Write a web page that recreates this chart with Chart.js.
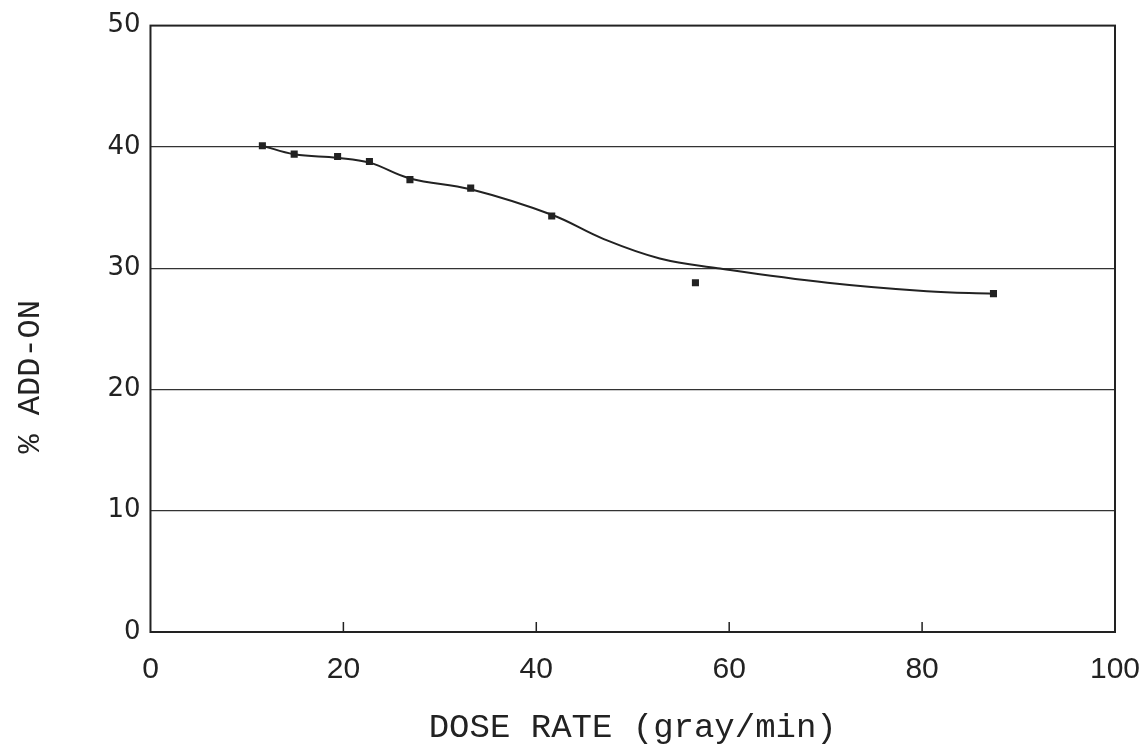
<!DOCTYPE html>
<html>
<head>
<meta charset="utf-8">
<script src="https://cdn.jsdelivr.net/npm/chart.js@4/dist/chart.umd.min.js"></script>
<style>
  html, body { margin: 0; padding: 0; background: #fff; }
  #wrap { width: 1140px; height: 744px; }
</style>
</head>
<body>
<div id="wrap"><canvas id="doseChart" width="1140" height="744"></canvas></div>
<script>
// measured points
const doseRate = [11.6, 14.9, 19.4, 22.7, 26.9, 33.2, 41.6, 56.5, 87.4];
const addOn = [40.1, 39.4, 39.2, 38.8, 37.3, 36.6, 34.3, 28.8, 27.9];

// fitted curve drawn through the data
const curveX = [11.6, 14.9, 19.4, 22.7, 26.9, 33.2, 41.6, 47.0, 52.8, 58.8, 70.2, 80.5, 87.4];
const curveY = [40.1, 39.4, 39.1, 38.7, 37.4, 36.5, 34.4, 32.4, 30.8, 30.0, 28.8, 28.1, 27.9];

const xTicks = [0, 20, 40, 60, 80, 100];
const yTicks = [0, 10, 20, 30, 40, 50];

// frame + inward x tick marks
const framePlugin = {
  id: "frame",
  afterDraw(chart) {
    const {ctx, chartArea: a, scales} = chart;
    ctx.save();
    ctx.strokeStyle = "#222";
    ctx.lineWidth = 2;
    ctx.strokeRect(a.left, a.top, a.right - a.left, a.bottom - a.top);
    ctx.beginPath();
    xTicks.slice(1, -1).forEach(v => {
      const px = scales.x.getPixelForValue(v);
      ctx.moveTo(px, a.bottom);
      ctx.lineTo(px, a.bottom - 10);
    });
    ctx.lineWidth = 1.5;
    ctx.stroke();
    ctx.restore();
  }
};

const ctx = document.getElementById("doseChart").getContext("2d");
new Chart(ctx, {
  type: "scatter",
  data: {
    datasets: [{
      label: "fit",
      data: curveX.map((x, i) => ({x: x, y: curveY[i]})),
      showLine: true,
      borderColor: "#222",
      borderWidth: 2,
      pointRadius: 0,
      tension: 0.4
    }, {
      label: "% add-on",
      data: doseRate.map((x, i) => ({x: x, y: addOn[i]})),
      pointStyle: "rect",
      pointRadius: 5,
      backgroundColor: "#222",
      borderColor: "#222",
      borderWidth: 0
    }]
  },
  options: {
    responsive: false,
    animation: false,
    layout: {padding: {top: 18, right: 0, bottom: 0, left: 11}},
    scales: {
      x: {
        type: "linear",
        min: 0, max: 100,
        afterBuildTicks: s => { s.ticks = xTicks.map(v => ({value: v})); },
        afterFit: s => { s.paddingRight = 25; s.height = 112; },
        grid: {display: false, drawTicks: false},
        border: {display: false},
        ticks: {color: "#222", padding: 20, font: {family: "Liberation Sans", size: 30}},
        title: {
          display: true,
          text: "DOSE RATE (gray/min)",
          color: "#222",
          padding: {top: 4, bottom: 1},
          font: {family: "Liberation Mono", size: 34, lineHeight: 0.9}
        }
      },
      y: {
        min: 0, max: 50,
        afterBuildTicks: s => { s.ticks = yTicks.map(v => ({value: v})); },
        grid: {
          color: ctx => (ctx.tick.value === 0 || ctx.tick.value === 50) ? "rgba(0,0,0,0)" : "#333",
          lineWidth: 1.3,
          borderDash: [4, 1.5],
          drawTicks: false
        },
        border: {display: false},
        ticks: {color: "#222", padding: 10, font: {family: "DejaVu Sans", size: 26}},
        title: {
          display: true,
          text: "% ADD-ON     ",
          color: "#222",
          padding: {top: 0, bottom: 48},
          font: {family: "Liberation Mono", size: 32, lineHeight: 1.2}
        }
      }
    },
    plugins: {
      legend: {display: false},
      tooltip: {enabled: false}
    }
  },
  plugins: [framePlugin]
});
</script>
</body>
</html>
